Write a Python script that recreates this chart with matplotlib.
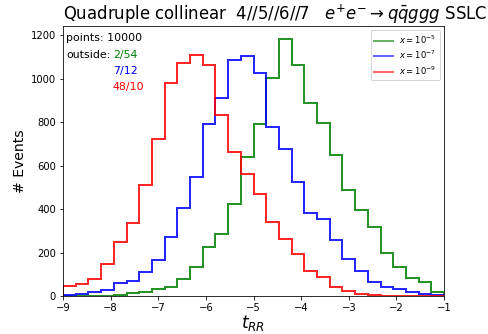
import numpy as np
import matplotlib
matplotlib.use("Agg")
import matplotlib.pyplot as plt

# Histogram range and binning of t_RR
t_min, t_max, n_bins = -9.0, -1.0, 30

# Bin contents for each cut value x
counts_1e5 = [0, 0, 0, 0, 5, 12, 20, 31, 43, 77, 135, 225, 285, 423, 639,
              791, 1001, 1183, 1061, 889, 794, 647, 486, 395, 316, 199, 133, 81, 64, 20]
counts_1e7 = [3, 8, 17, 28, 58, 70, 109, 167, 270, 403, 547, 789, 912, 1087, 1102,
              1028, 778, 676, 526, 383, 356, 257, 169, 117, 66, 40, 31, 17, 8, 3]
counts_1e9 = [46, 55, 78, 146, 250, 336, 510, 722, 978, 1070, 1111, 1065, 835, 662, 559,
              467, 339, 262, 193, 117, 89, 43, 21, 8, 3, 1, 0, 0, 0, 0]

series_labels = [r"$x=10^{-5}$", r"$x=10^{-7}$", r"$x=10^{-9}$"]
series_colors = ["green", "blue", "red"]
outside_counts = ["2/54", "7/12", "48/10"]
n_points = 10000

edges = np.linspace(t_min, t_max, n_bins + 1)

fig = plt.figure(figsize=(488 / 72, 334 / 72), dpi=72)
ax = fig.add_axes([63 / 488, 1 - 296 / 334, 381 / 488, 270 / 334])

for vals, lab, col in zip([counts_1e5, counts_1e7, counts_1e9], series_labels, series_colors):
    ax.stairs(vals, edges, color=col, lw=2, alpha=0.85, label=lab)

ymax = max(max(counts_1e5), max(counts_1e7), max(counts_1e9))
ax.set_xlim(t_min, t_max)
ax.set_ylim(0, ymax * 1.05)
ax.set_xticks(np.arange(-9, 0, 1))
ax.set_yticks(np.arange(0, 1201, 200))

ax.set_xlabel(r"$t_{RR}$", fontsize=17, labelpad=0)
ax.set_ylabel("# Events", fontsize=14)
ax.set_title(r"Quadruple collinear  4//5//6//7   $e^{+}e^{-}\rightarrow q\bar{q}ggg$ SSLC",
             fontsize=16.5, loc="left")

leg = ax.legend(loc="upper right", fontsize=8.5, labelspacing=0.35, handlelength=2.2)
for h in leg.get_lines():
    h.set_alpha(0.6)

ax.text(0.008, 0.956, f"points: {n_points}", transform=ax.transAxes, fontsize=11, va="center", ha="left")
ax.text(0.008, 0.893, "outside:", transform=ax.transAxes, fontsize=11, va="center", ha="left")
for i, (txt, col) in enumerate(zip(outside_counts, series_colors)):
    ax.text(0.131, 0.893 - i * 0.06, txt, color=col, transform=ax.transAxes,
            fontsize=11, va="center", ha="left")

fig.savefig("out.png", dpi=72)
